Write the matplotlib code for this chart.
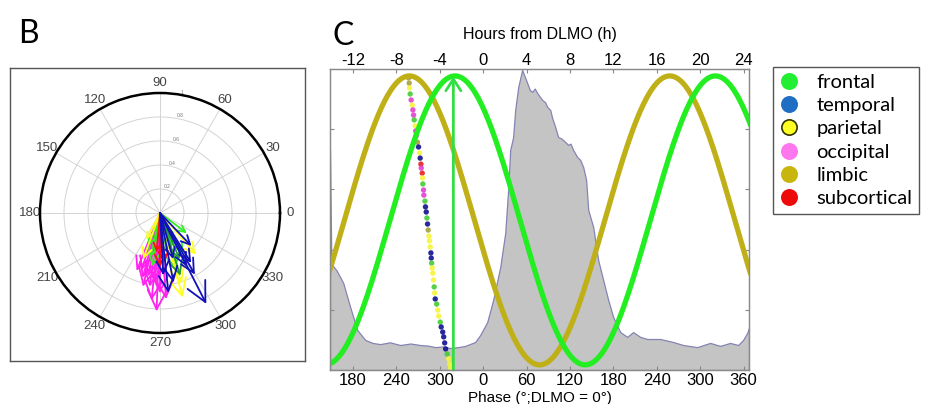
import numpy as np
import matplotlib
matplotlib.use('Agg')
import matplotlib.pyplot as plt
from matplotlib.lines import Line2D

plt.rcParams['font.family'] = ['Liberation Sans', 'DejaVu Sans']

# ---- panel B: compass arrows (angle in deg, length, colour key) ----
arrow_ang = [252, 257, 248, 262, 266, 255, 264.5, 259.5, 268, 274, 270,
             251, 260, 258, 262, 286, 280, 296, 300, 323, 290,
             250, 243, 285, 287, 311,
             265, 270, 275,
             293, 288,
             273, 276, 281, 286, 296.6, 302, 313.6, 299.5, 297]
arrow_len = [0.50, 0.63, 0.52, 0.62, 0.58, 0.56, 0.73, 0.54, 0.82, 0.72, 0.67,
             0.29, 0.17, 0.38, 0.45, 0.49, 0.34, 0.25, 0.39, 0.28, 0.30,
             0.41, 0.25, 0.73, 0.62, 0.46,
             0.33, 0.45, 0.42,
             0.42, 0.55,
             0.52, 0.67, 0.59, 0.40, 0.50, 0.49, 0.38, 0.59, 0.85]
arrow_key = ['m', 'm', 'm', 'm', 'm', 'm', 'm', 'm', 'm', 'm', 'm',
             'g', 'g', 'g', 'g', 'g', 'g', 'g', 'g', 'g', 'g',
             'y', 'y', 'y', 'y', 'y',
             'r', 'r', 'r',
             'd', 'd',
             'b', 'b', 'b', 'b', 'b', 'b', 'b', 'b', 'b']
compass_colors = {'m': '#ff22ee', 'g': '#33ee22', 'y': '#ffff22', 'r': '#ff1111',
                  'd': '#229933', 'b': '#1111bb'}

# ---- panel C ----
hour_ticks = [-12, -8, -4, 0, 4, 8, 12, 16, 20, 24]
hour_labels = ['-12', '-8', '-4', '0', '4', '8', '12', '16', '20', '24']
phase_labels = ['180', '240', '300', '0', '60', '120', '180', '240', '300', '360']

# grey activity profile (hours, relative level)
gray_h = [-14.12, -14.00, -13.92, -13.5, -12.90, -12.26, -11.61, -10.88, -10.2, -9.49,
          -8.6, -7.65, -6.7, -5.81, -5.1, -4.42, -3.7, -3.04, -2.3, -1.66,
          -0.74, -0.28, 0.37, 0.92, 1.57, 2.03, 2.30, 2.49, 2.76, 2.95,
          3.23, 3.59, 4.06, 4.30, 4.52, 4.75, 4.98, 5.44, 5.70, 5.90,
          6.18, 6.36, 6.64, 6.91, 7.15, 7.37, 7.83, 8.05, 8.29, 8.66,
          8.94, 9.22, 9.49, 9.68, 10.14, 10.60, 11.06, 11.52, 11.98, 12.63,
          13.27, 13.82, 14.47, 15.12, 16.31, 17.51, 18.43, 19.72, 20.92, 21.84,
          22.76, 23.50, 23.96, 24.33, 24.5]
gray_v = [0.73, 0.36, 0.349, 0.33, 0.289, 0.209, 0.133, 0.100, 0.090, 0.086,
          0.092, 0.083, 0.088, 0.083, 0.081, 0.076, 0.078, 0.073, 0.076, 0.080,
          0.093, 0.116, 0.159, 0.233, 0.342, 0.455, 0.598, 0.731, 0.774, 0.864,
          0.940, 0.997, 0.953, 0.930, 0.924, 0.935, 0.920, 0.897, 0.890, 0.874,
          0.864, 0.837, 0.807, 0.774, 0.770, 0.764, 0.748, 0.752, 0.731, 0.708,
          0.698, 0.674, 0.631, 0.532, 0.475, 0.365, 0.299, 0.233, 0.176, 0.126,
          0.110, 0.126, 0.110, 0.103, 0.103, 0.093, 0.083, 0.076, 0.090, 0.080,
          0.090, 0.083, 0.100, 0.123, 0.140]

# cosinor fits: acrophase (hours from DLMO)
peak_frontal = -2.6
peak_limbic = -6.8
mean_phase_h = -2.75

# region phases (hours) and their rank position
dot_h = [-6.88, -6.82, -6.79, -6.73, -6.64, -6.54, -6.48, -6.42, -6.36, -6.27,
         -6.22, -6.18, -6.06, -5.96, -5.87, -5.81, -5.74, -5.71, -5.62, -5.59,
         -5.56, -5.50, -5.47, -5.37, -5.32, -5.25, -5.19, -5.13, -5.07, -5.00,
         -4.95, -4.88, -4.82, -4.79, -4.75, -4.70, -4.65, -4.58, -4.52, -4.47,
         -4.42, -4.29, -4.19, -4.10, -3.96, -3.87, -3.73, -3.64, -3.55, -3.46,
         -3.32, -3.18, -3.09, -3.00]
dot_y = [0.970, 0.953, 0.937, 0.917, 0.897, 0.880, 0.864, 0.847, 0.831, 0.811,
         0.794, 0.777, 0.757, 0.741, 0.721, 0.704, 0.684, 0.671, 0.654, 0.638,
         0.618, 0.598, 0.581, 0.561, 0.542, 0.525, 0.505, 0.485, 0.465, 0.445,
         0.429, 0.409, 0.389, 0.372, 0.355, 0.339, 0.322, 0.299, 0.276, 0.256,
         0.236, 0.219, 0.199, 0.179, 0.159, 0.143, 0.126, 0.110, 0.090, 0.070,
         0.053, 0.037, 0.020, 0.007]
dot_key = ['o', 'o', 'y', 'g', 'm', 'y', 'm', 'm', 'g', 'y',
           'm', 'm', 'o', 'b', 'y', 'b', 'r', 'm', 'r', 'y',
           'g', 'm', 'm', 'g', 'b', 'b', 'g', 'b', 'o', 'y',
           'y', 'y', 'b', 'b', 'g', 'y', 'y', 'y', 'g', 'y',
           'b', 'g', 'y', 'y', 'g', 'b', 'b', 'b', 'b', 'b',
           'g', 'y', 'y', 'y']
dot_colors = {'g': '#44cc33', 'b': '#101090', 'y': '#f4f43a', 'm': '#e040d0',
              'o': '#a8a040', 'r': '#e82020'}

legend_names = ['frontal', 'temporal', 'parietal', 'occipital', 'limbic', 'subcortical']
legend_fill = ['#22ee33', '#1f6ec4', '#ffff22', '#ff77ee', '#c8b60e', '#ee0a0a']
legend_edge = ['#22ee33', '#1f6ec4', '#333300', '#ff77ee', '#c8b60e', '#ee0a0a']

W, H = 926, 404
fig = plt.figure(figsize=(W / 100, H / 100), dpi=100)

# ---------------- panel B ----------------
frame = fig.add_axes([10 / W, 1 - 361 / H, 295 / W, 293 / H])
frame.set_xticks([])
frame.set_yticks([])
for s in frame.spines.values():
    s.set_color('#555555')
    s.set_linewidth(1.0)

axp = fig.add_axes([40 / W, 1 - 333 / H, 240 / W, 240 / H], projection='polar')
axp.set_facecolor('white')
axp.set_ylim(0, 1)
axp.set_thetagrids(range(0, 360, 30), [str(a) for a in range(0, 360, 30)],
                   fontsize=9.5, color='#444444')
axp.set_rgrids([0.2, 0.4, 0.6, 0.8, 1.0], ['0.2', '0.4', '0.6', '0.8', '1'],
               angle=80, fontsize=3.5, color='#777777')
axp.grid(color='#d4d4d4', lw=0.7)
axp.spines['polar'].set_linewidth(1.8)
axp.spines['polar'].set_color('black')
axp.tick_params(axis='x', pad=-3)

for a, r, k in zip(arrow_ang, arrow_len, arrow_key):
    axp.annotate('', xy=(np.deg2rad(a), r), xytext=(0, 0),
                 arrowprops=dict(arrowstyle='->,head_length=0.6,head_width=0.3',
                                 color=compass_colors[k], lw=1.3,
                                 shrinkA=0, shrinkB=0, mutation_scale=28 * r))

fig.text(18 / W, 1 - 34 / H, 'B', fontsize=23, family='Lato', va='center', ha='left')

# ---------------- panel C ----------------
ax = fig.add_axes([330 / W, 1 - 370 / H, 419 / W, 301 / H])
ax.fill_between(gray_h, 0, gray_v, facecolor='#c4c4c4', edgecolor='#8484b4',
                lw=0.9, zorder=1)

ax.scatter(dot_h, dot_y, s=15, c=[dot_colors[k] for k in dot_key],
           edgecolors='none', alpha=0.9, zorder=2)

hh = np.linspace(-14.2, 24.6, 400)
ax.plot(hh, 0.497 + 0.48 * np.cos(2 * np.pi * (hh - peak_limbic) / 24),
        color='#c0b018', lw=3.8, zorder=3)
ax.plot(hh, 0.497 + 0.48 * np.cos(2 * np.pi * (hh - peak_frontal) / 24),
        color='#22ee22', lw=3.8, zorder=4)

ax.annotate('', xy=(mean_phase_h, 0.975), xytext=(mean_phase_h, 0.0),
            arrowprops=dict(arrowstyle='->,head_length=0.7,head_width=0.45',
                            color='#33dd44', lw=2, shrinkA=0, shrinkB=0,
                            mutation_scale=12), zorder=5)

ax.set_xlim(-14.12, 24.5)
ax.set_ylim(0, 1)
ax.set_xticks(hour_ticks)
ax.set_xticklabels(phase_labels)
ax.set_yticks([0.2, 0.4, 0.6, 0.8])
ax.set_yticklabels([])
ax.tick_params(direction='in', length=3, color='#888888', labelsize=12, pad=2,
               right=True)
ax.set_xlabel('Phase (°;DLMO = 0°)', fontsize=11, labelpad=2)

top = ax.twiny()
top.set_xlim(ax.get_xlim())
top.set_xticks(hour_ticks)
top.set_xticklabels(hour_labels)
top.tick_params(direction='in', length=3, color='#888888', labelsize=12, pad=1)
top.set_xlabel('Hours from DLMO (h)', fontsize=11.5, labelpad=10)

for a_ in (ax, top):
    for s in a_.spines.values():
        s.set_color('#8a8a8a')
        s.set_linewidth(0.9)

fig.text(333 / W, 1 - 36 / H, 'C', fontsize=23, family='Lato', va='center', ha='left')

handles = [Line2D([], [], ls='none', marker='o', ms=11, mfc=f, mec=e, mew=1.2)
           for f, e in zip(legend_fill, legend_edge)]
fig.legend(handles, legend_names, loc='upper left',
           bbox_to_anchor=(773 / W, 1 - 67 / H), frameon=True, fancybox=False,
           edgecolor='#555555', framealpha=1,
           prop={'family': 'Lato', 'size': 14.5}, handlelength=0.9,
           handletextpad=0.9, labelspacing=0.3, borderpad=0.35, borderaxespad=0)

fig.savefig('out.png', dpi=100)
